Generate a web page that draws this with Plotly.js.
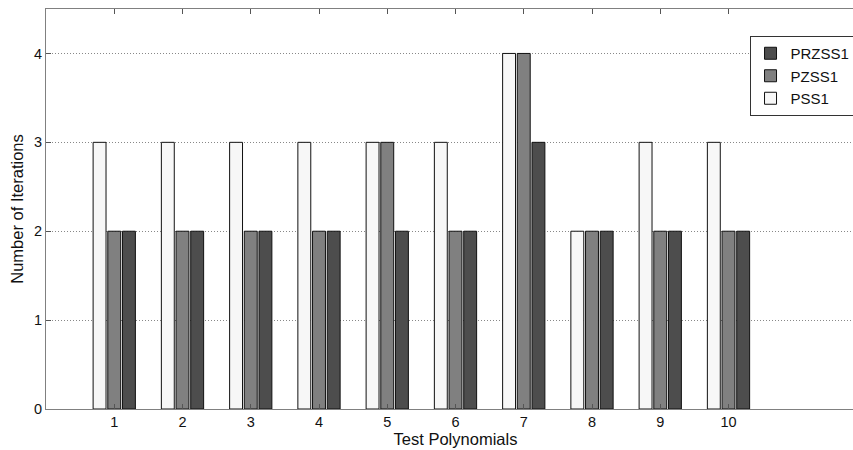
<!DOCTYPE html>
<html><head><meta charset="utf-8">
<script src="https://cdn.plot.ly/plotly-3.0.1.min.js"></script>
<style>html,body{margin:0;padding:0;background:#fff;overflow:hidden}#wrap{width:853px;height:450px;overflow:hidden}#chart{width:865px;height:450px}</style>
</head><body><div id="wrap"><div id="chart"></div></div>
<script>
const categories = [1,2,3,4,5,6,7,8,9,10];
const pss1   = [3,3,3,3,3,3,4,2,3,3];
const pzss1  = [2,2,2,2,3,2,4,2,2,2];
const przss1 = [2,2,2,2,2,2,3,2,2,2];
const tickLabels = ['1','2','3','4','5','6','7','8','9','10'];

const line = {color:'#111', width:1};
const traces = [
  {type:'bar', name:'PSS1', x:categories, y:pss1, marker:{color:'#f7f7f7', line:line}},
  {type:'bar', name:'PZSS1', x:categories, y:pzss1, marker:{color:'#808080', line:line}},
  {type:'bar', name:'PRZSS1', x:categories, y:przss1, marker:{color:'#4d4d4d', line:line}}
];
const font = {family:'Liberation Sans, Arial, sans-serif', size:14, color:'#111'};
const layout = {
  width:865, height:450,
  margin:{l:46, r:0, t:9, b:41, autoexpand:false},
  paper_bgcolor:'#fff', plot_bgcolor:'#fff',
  font:font,
  barmode:'group', bargap:0.355, bargroupgap:0.12,
  showlegend:true,
  legend:{x:0.859, y:0.9325, xanchor:'left', yanchor:'top', traceorder:'reversed',
          bordercolor:'#333', borderwidth:1, bgcolor:'#fff', font:{size:15, color:'#111'},
          itemwidth:30, tracegroupgap:0},
  xaxis:{range:[0,12], tickvals:categories, ticktext:tickLabels, ticks:'inside', ticklen:5,
         tickcolor:'#555', showline:true, linecolor:'#808080', linewidth:1, mirror:'ticks',
         showgrid:false, zeroline:false, fixedrange:true, tickfont:{size:14.5},
         title:{text:'Test Polynomials', font:{size:16.5}, standoff:0}},
  yaxis:{range:[0,4.5], tickvals:[0,1,2,3,4], ticks:'inside', ticklen:5, tickcolor:'#555',
         showline:true, linecolor:'#808080', linewidth:1, mirror:false, tickfont:{size:14.5},
         showgrid:true, gridcolor:'#888', griddash:'1px,2px', gridwidth:1, zeroline:false,
         title:{text:'Number of Iterations', font:{size:16.5}, standoff:6}}
};
Plotly.newPlot('chart', traces, layout, {staticPlot:true});
</script></body></html>
